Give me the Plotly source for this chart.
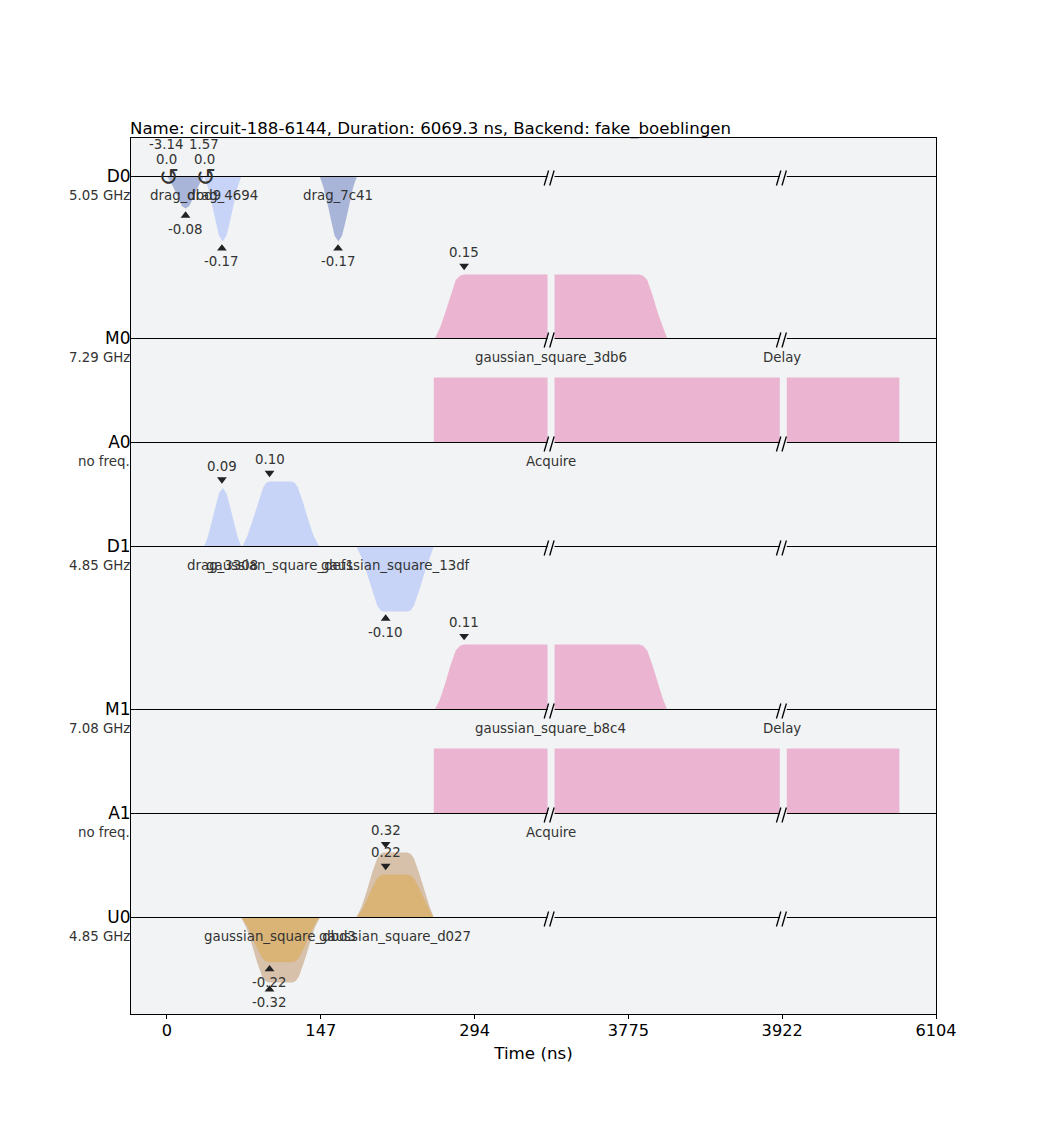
# -*- coding: utf-8 -*-
import plotly.graph_objs

channel_names=['D0','M0','A0','D1','M1','A1','U0']
channel_freqs=['5.05 GHz','7.29 GHz','no freq.','4.85 GHz','7.08 GHz','no freq.','4.85 GHz']
channel_offset=[839,677,573,469,306,202,98]
channel_scale=[382,427,65,650,590,65,203]

tick_times=[0,147,294,441,588,735]
tick_labels=['0','147','294','3775','3922','6104']
break_times=[367,589]

drag_dbd9_t=[0,3.55,7.1,10.65,14.2,17.75,21.3,24.85,28.4,31.95,35.5]
drag_dbd9_a=[0,-.014,-.034,-.057,-.077,-.084,-.077,-.057,-.034,-.014,0]
drag_4694_t=[35.5,39.05,42.6,46.15,49.7,53.25,56.8,60.35,63.9,67.45,71]
drag_4694_a=[0,-.028,-.069,-.116,-.155,-.17,-.155,-.116,-.069,-.028,0]
drag_7c41_t=[146,149.55,153.1,156.65,160.2,163.75,167.3,170.85,174.4,177.95,181.5]
drag_7c41_a=[0,-.028,-.069,-.116,-.155,-.17,-.155,-.116,-.069,-.028,0]
gauss_3db6_t=[256,261,266,271,276,280,284,451,455,459,464,469,474,478]
gauss_3db6_a=[0,.025,.061,.102,.137,.147,.15,.15,.147,.137,.102,.061,.025,0]
acquire_0_t=[255,255,700,700]
acquire_0_a=[0,1,1,0]
drag_3308_t=[35.5,39.05,42.6,46.15,49.7,53.25,56.8,60.35,63.9,67.45,71]
drag_3308_a=[0,.015,.037,.061,.082,.09,.082,.061,.037,.015,0]
gauss_def1_t=[72,77,82,87,92,95,98,119,122,125,130,135,140,145.5]
gauss_def1_a=[0,.017,.041,.068,.091,.098,.1,.1,.098,.091,.068,.041,.017,0]
gauss_13df_t=[181,186,191,196,201,204,207,230,233,236,241,246,251,255]
gauss_13df_a=[0,-.017,-.041,-.068,-.091,-.098,-.1,-.1,-.098,-.091,-.068,-.041,-.017,0]
gauss_b8c4_t=[256,261,266,271,276,280,284,451,455,459,464,469,474,478]
gauss_b8c4_a=[0,.018,.045,.075,.1,.108,.11,.11,.108,.1,.075,.045,.018,0]
acquire_1_t=[255,255,700,700]
acquire_1_a=[0,1,1,0]
gauss_dbd3_t=[71,76,81,86,91,94,97,120,123,126,131,136,141,146]
gauss_dbd3_re=[0,-.036,-.09,-.15,-.2,-.215,-.22,-.22,-.215,-.2,-.15,-.09,-.036,0]
gauss_dbd3_im=[0,-.053,-.13,-.219,-.292,-.313,-.32,-.32,-.313,-.292,-.219,-.13,-.053,0]
gauss_d027_t=[181,186,191,196,201,204,207,230,233,236,241,246,251,255]
gauss_d027_re=[0,.035,.087,.145,.193,.207,.212,.212,.207,.193,.145,.087,.035,0]
gauss_d027_im=[0,.053,.13,.219,.292,.313,.32,.32,.313,.292,.219,.13,.053,0]

# channel index, time, amplitude, colour
pulses=[
    (0,drag_dbd9_t,drag_dbd9_a,'rgba(0,41,153,0.3)'),
    (0,drag_4694_t,drag_4694_a,'rgba(100,143,255,0.3)'),
    (0,drag_7c41_t,drag_7c41_a,'rgba(0,41,153,0.3)'),
    (1,gauss_3db6_t,gauss_3db6_a,'rgba(220,38,127,0.3)'),
    (2,acquire_0_t,acquire_0_a,'rgba(220,38,127,0.3)'),
    (3,drag_3308_t,drag_3308_a,'rgba(100,143,255,0.3)'),
    (3,gauss_def1_t,gauss_def1_a,'rgba(100,143,255,0.3)'),
    (3,gauss_13df_t,gauss_13df_a,'rgba(100,143,255,0.3)'),
    (4,gauss_b8c4_t,gauss_b8c4_a,'rgba(220,38,127,0.3)'),
    (5,acquire_1_t,acquire_1_a,'rgba(220,38,127,0.3)'),
    (6,gauss_dbd3_t,gauss_dbd3_re,'rgba(255,176,0,0.3)'),
    (6,gauss_dbd3_t,gauss_dbd3_im,'rgba(153,79,0,0.3)'),
    (6,gauss_d027_t,gauss_d027_re,'rgba(255,176,0,0.3)'),
    (6,gauss_d027_t,gauss_d027_im,'rgba(153,79,0,0.3)'),
]

name_channel=[0,0,0,1,1,2,3,3,3,4,4,5,6,6]
name_time=[17.75,53,163.5,367,588,367,53,108,218,367,588,367,108,218]
name_text=['drag_dbd9','drag_4694','drag_7c41','gaussian_square_3db6','Delay','Acquire',
           'drag_3308','gaussian_square_def1','gaussian_square_13df','gaussian_square_b8c4','Delay','Acquire',
           'gaussian_square_dbd3','gaussian_square_d027']

peak_channel=[0,0,0,1,3,3,3,4,6,6,6,6]
peak_time=[17.75,52.5,163.5,284,52.5,98,209,284,209,209,98,98]
peak_value=[-.084,-.17,-.17,.15,.09,.10,-.10,.11,.32,.212,-.22,-.32]
peak_text=['-0.08','-0.17','-0.17','0.15','0.09','0.10','-0.10','0.11','0.32','0.22','-0.22','-0.32']

frame_time=[0,35.5]
frame_phase=['-3.14','1.57']
frame_freq=['0.0','0.0']

def label(text,x,y,size=13.35,xref='x',xanchor='center',xshift=0):
    '''Return one text annotation for the layout'''
    return dict(text=text,x=x,y=y,xref=xref,yref='y',xanchor=xanchor,yanchor='middle',
                xshift=xshift,showarrow=False,font=dict(size=size,color='#333333'))

def plot_schedule():
    '''Draw the pulse schedule, one baseline per channel'''
    data=[]
    for channel,times,amps,color in pulses:
        data.append(plotly.graph_objs.Scatter(
            x=times,y=[channel_offset[channel]+channel_scale[channel]*a for a in amps],
            mode='lines',fill='toself',fillcolor=color,line=dict(width=0),
            showlegend=False,hoverinfo='skip'))
    for offset in channel_offset:
        data.append(plotly.graph_objs.Scatter(
            x=[tick_times[0]-36,tick_times[-1]],y=[offset,offset],mode='lines',
            line=dict(color='black',width=1.2),showlegend=False,hoverinfo='skip'))

    annotations=[]
    marker_x=[]
    marker_y=[]
    marker_symbol=[]
    for channel,time,value,text in zip(peak_channel,peak_time,peak_value,peak_text):
        top=channel_offset[channel]+channel_scale[channel]*value
        above=value>0
        marker_x.append(time)
        marker_y.append(top+8.5 if above else top-7)
        marker_symbol.append('triangle-down' if above else 'triangle-up')
        annotations.append(label(text,time,top+22 if above else top-20.5))
    data.append(plotly.graph_objs.Scatter(
        x=marker_x,y=marker_y,mode='markers',showlegend=False,hoverinfo='skip',
        marker=dict(symbol=marker_symbol,size=8.5,color='#222222',line=dict(width=0))))

    for channel,time,text in zip(name_channel,name_time,name_text):
        annotations.append(label(text,time,channel_offset[channel]-19))
    for offset,freq in zip(channel_offset,channel_freqs):
        annotations.append(label(freq,0,offset-19,xref='paper',xanchor='right',xshift=1))
    for time,phase,freq in zip(frame_time,frame_phase,frame_freq):
        annotations.append(label(phase,time,channel_offset[0]+32))
        annotations.append(label(freq,time,channel_offset[0]+17))
        annotations.append(label('\u21ba',time,channel_offset[0],size=24,xshift=2))
    annotations.append(dict(text='Name: circuit-188-6144, Duration: 6069.3 ns, Backend: fake_boeblingen',
                            x=0,y=1,xref='paper',yref='paper',xanchor='left',yanchor='bottom',
                            showarrow=False,xshift=-3,yshift=-3,font=dict(size=16.6,color='black')))

    shapes=[]
    for time in break_times:
        shapes.append(dict(type='rect',layer='above',x0=time-3.3,x1=time+3.4,y0=82,y1=880,
                           fillcolor='#f2f3f4',line=dict(width=0)))
    for time in break_times:
        for offset in channel_offset:
            for shift in [-6.5,-1.2]:
                shapes.append(dict(type='line',layer='above',x0=time+shift,x1=time+shift+4.2,
                                   y0=offset-9,y1=offset+6,line=dict(color='black',width=1.3)))

    layout=plotly.graph_objs.Layout(
        width=1032,height=1132,autosize=False,
        margin=dict(l=123,r=104,t=130,b=126),
        paper_bgcolor='white',plot_bgcolor='#f2f3f4',
        font=dict(family='DejaVu Sans',color='black'),
        xaxis=dict(title=dict(text='Time (ns)',font=dict(size=16.7),standoff=7),range=[-34.4,735],
                   tickvals=tick_times,ticktext=tick_labels,tickfont=dict(size=16.2),ticklabelstandoff=-2,
                   ticks='outside',ticklen=4,tickcolor='black',showgrid=False,zeroline=False,
                   showline=True,linecolor='black',linewidth=1,mirror=True),
        yaxis=dict(range=[1.5,877.5],tickvals=channel_offset,ticktext=channel_names,
                   tickfont=dict(size=17),ticks='',ticklabelstandoff=-4,showgrid=False,zeroline=False,
                   showline=True,linecolor='black',linewidth=1,mirror=True),
        annotations=annotations,shapes=shapes)
    return plotly.graph_objs.Figure(data=data,layout=layout)

fig=plot_schedule()
fig.write_html("out.html")
